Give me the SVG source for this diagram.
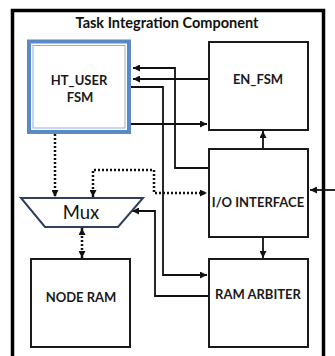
<svg xmlns="http://www.w3.org/2000/svg" width="335" height="356" viewBox="0 0 335 356">
<style>
.box{fill:#fff;stroke:#1a1a1a;stroke-width:2}
.lbl{font-family:Lato,"Liberation Sans",sans-serif;font-weight:bold;font-size:13px;fill:#1a1a1a;text-anchor:middle}
.ln{fill:none;stroke:#111;stroke-width:1.8}
.dot{fill:none;stroke:#111;stroke-width:2.5;stroke-dasharray:2 2}
</style>
<defs>
<marker id="ah" viewBox="0 0 10 10" refX="10" refY="5" markerWidth="7" markerHeight="7" markerUnits="userSpaceOnUse" orient="auto-start-reverse"><path d="M0,0 L10,5 L0,10 z" fill="#111"/></marker>
</defs>
<rect x="0" y="0" width="335" height="356" fill="#fff"/>
<g id="frame">
<rect x="12.5" y="10.5" width="311" height="360" fill="none" stroke="#000" stroke-width="3.5"/>
<text x="167" y="28" font-family="Lato,'Liberation Sans',sans-serif" font-weight="bold" font-size="14.5" fill="#111" text-anchor="middle">Task Integration Component</text>
</g>
<g id="connectors">
<path class="ln" d="M208,168 H175 V68 H133" marker-end="url(#ah)"/>
<path class="ln" d="M208,79 H133" marker-end="url(#ah)"/>
<path class="ln" d="M131,87 H163 V275 H207" marker-end="url(#ah)"/>
<path class="ln" d="M131,124 H207" marker-end="url(#ah)"/>
<path class="ln" d="M263,149 V131" marker-end="url(#ah)"/>
<path class="ln" d="M263,237 V258" marker-end="url(#ah)"/>
<path class="ln" d="M335,190 H310" marker-end="url(#ah)"/>
<path class="ln" d="M208,296 H155 V211 H132" marker-end="url(#ah)"/>
<path class="dot" d="M55,134 V197" marker-end="url(#ah)"/>
<path class="dot" d="M93,197 V170 H154 V193 H207" marker-start="url(#ah)" marker-end="url(#ah)"/>
<path class="dot" d="M82,228 V258" marker-start="url(#ah)" marker-end="url(#ah)"/>
</g>
<g id="ht_user">
<rect x="29" y="41.5" width="100" height="90.5" fill="#fff" stroke="#5a8ac6" stroke-width="4"/>
<rect x="33" y="45.5" width="92" height="82.5" fill="none" stroke="#8fb0da" stroke-width="1"/>
<text class="lbl" x="79" y="85" font-size="14.5">HT_USER</text>
<text class="lbl" x="80" y="102" font-size="14.5">FSM</text>
</g>
<g id="en_fsm">
<rect class="box" x="209" y="42" width="99" height="88"/>
<text class="lbl" x="258" y="84" font-size="14">EN_FSM</text>
</g>
<g id="io_interface">
<rect class="box" x="209" y="149" width="99" height="88"/>
<text class="lbl" x="258" y="207">I/O INTERFACE</text>
</g>
<g id="mux">
<polygon points="21,198 143,198 118,227 45,227" fill="#fff" stroke="#2f3f5f" stroke-width="2"/>
<text x="81" y="219" font-family="Lato,'Liberation Sans',sans-serif" font-size="18.5" fill="#111" text-anchor="middle">Mux</text>
</g>
<g id="node_ram">
<rect class="box" x="31" y="259" width="99" height="88"/>
<text class="lbl" x="81" y="302">NODE RAM</text>
</g>
<g id="ram_arbiter">
<rect class="box" x="209" y="259" width="99" height="88"/>
<text class="lbl" x="258" y="299">RAM ARBITER</text>
</g>
</svg>
